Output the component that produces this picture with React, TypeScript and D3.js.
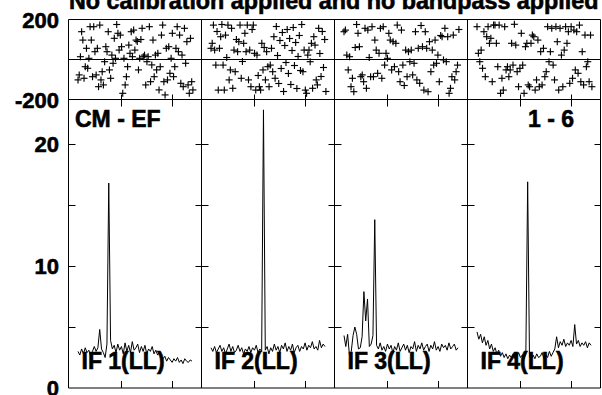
import React from "react";
import * as d3 from "d3";

const TITLE = "No calibration applied and no bandpass applied";
const BASELINE_LABEL = "CM - EF";
const ANTENNA_LABEL = "1 - 6";
const IF_NAMES = ["IF 1(LL)", "IF 2(LL)", "IF 3(LL)", "IF 4(LL)"];

const AMP_IF1 = [3.0, 2.7, 3.2, 2.8, 3.3, 2.9, 3.1, 2.6, 3.0, 3.4, 3.0, 3.3, 4.8, 3.2, 2.9, 2.5, 3.6, 16.8, 3.9, 3.2,
  3.5, 2.9, 3.6, 3.1, 3.4, 2.8, 3.7, 3.0, 3.5, 2.9, 3.8, 3.1, 3.3, 3.6, 2.9, 3.4, 3.0, 3.5, 2.8, 3.2,
  3.0, 3.4, 2.8, 3.1, 2.7, 2.9, 2.6, 2.4, 2.6, 2.2, 2.5, 2.3, 2.1, 2.4, 2.2, 2.5, 2.1, 2.3, 2.0, 2.4, 2.2, 2.1, 2.3, 2.2];
const AMP_IF2 = [3.3, 3.0, 3.4, 2.9, 3.2, 3.5, 3.0, 3.3, 2.8, 3.2, 3.6, 3.0, 3.4, 2.9, 3.1, 3.5, 3.0, 3.3, 2.8, 3.2,
  3.0, 3.4, 2.9, 3.3, 3.1, 3.5, 2.9, 3.2, 3.0, 22.8, 3.1, 3.4, 2.8, 3.3, 3.0, 3.6, 3.1, 3.4, 2.9, 3.5,
  3.2, 3.7, 3.0, 3.4, 3.1, 3.6, 2.9, 3.3, 3.5, 3.0, 3.4, 3.2, 3.7, 3.1, 3.5, 3.3, 3.8, 3.2, 3.4, 3.1, 3.9, 3.3, 3.6, 3.4];
const AMP_IF3 = [4.3, 3.4, 4.4, 2.7, 3.0, 4.3, 5.0, 4.4, 3.2, 3.3, 4.2, 7.9, 5.5, 7.3, 3.4, 3.6, 4.3, 13.8, 3.5, 3.2,
  3.7, 3.1, 3.4, 3.0, 3.6, 3.2, 3.5, 2.9, 3.4, 3.1, 3.7, 3.0, 3.3, 3.6, 3.1, 3.5, 2.9, 3.4, 3.2, 3.8,
  3.0, 3.5, 3.2, 3.7, 3.1, 3.4, 3.6, 3.0, 3.5, 3.2, 3.8, 3.1, 3.4, 3.0, 3.6, 3.3, 3.5, 3.1, 3.7, 3.2, 3.4, 3.6, 3.1, 3.3];
const AMP_IF4 = [4.6, 4.0, 4.4, 3.7, 4.2, 3.5, 3.9, 3.2, 3.6, 3.0, 3.3, 2.8, 3.1, 2.6, 2.9, 2.5, 2.8, 2.4, 2.7, 2.5,
  2.8, 2.4, 2.6, 2.9, 2.5, 2.7, 2.4, 2.8, 16.9, 2.6, 2.3, 2.7, 2.4, 2.8, 2.5, 2.6, 2.9, 2.4, 2.7, 2.5,
  3.0, 2.6, 2.9, 3.2, 4.2, 3.3, 3.8, 3.5, 4.0, 3.4, 3.7, 3.5, 3.9, 3.4, 5.2, 3.6, 3.9, 3.4, 3.7, 3.5, 3.8, 3.3, 3.7, 3.5];

const PHASE_IF1 = [-102, -77, 14, 139, 97, -94, -36, 56, -44, 6, 164, 97, -86, 164, 39, -77, 56, -136, 172, -102,
  -61, -127, -11, 64, 39, 139, -52, -94, 22, -19, 106, 6, 175, 131, 47, 122, 64, -169, 6, -127, -86, -36, 72, 31, 139, 14, 147,
  47, 97, 90, -52, 6, 100, 156, 14, 22, -127, -11, 14, 164, -111, -27, 97, -86, 22, -52, 31, -152, -36, 122, 172, -111, -177, 56,
  -102, 64, -69, 6, 131, -86, -36, 56, 164, 39, 122, -119, 22, -136, 156, -19, 89, -127, -169, 106, -111, -152];
const PHASE_IF2 = [56, 81, 172, 47, -28, 140, -153, 56, 114, 175, -28, -153, 122, 10, 172, -102,
  -52, 156, -144, 47, -61, 100, 39, 89, 172, -94, -10, 81, 131, 39, 172, -102,
  47, -136, 150, 172, 31, -153, 22, -80, -136, -153, 81, -52, 60, -102, 39, -36,
  -136, -28, 56, -61, 114, -94, 165, 20, -120, 95, -45, 135, -160, 70, -15, 150,
  -70, 105, -125, 45, 160, -30, 85, -145, 15, 120, -55, 175, -61, 47, -153, -169,
  22, 47, -11, 81, -144, 114, 72, -102, -127, 156, 30, -85, 140, -40, 100, -160];
const PHASE_IF3 = [139, 147, 22, -52, 14, -136, -94, -161, 60,
  175, 131, 64, -86, -77, -111, 156, -144, 147, 10,
  -86, 164, -86, 97, 47, -69, 31, 156, -94, 164, -28,
  31, 6, 131, 97, -52, 89, -36, 81, 172, -61, -111, 147, -28, -130,
  47, -86, 39, -11, 47, -77, -19, 139, -102, 56, -119, 170,
  64, -153, 139, 56, -161, 89, -61, 47, -28, 97, -19, 22, -111, 120,
  114, -2, 156, -11, 114, -169, -144, -86, 122, -102, -61, -28, 150];
const PHASE_IF4 = [164, 31, -11, 47, -44, 139, -86, 114, 164, 81,
  106, -111, 172, 172, 81, -36, 172, -169, -94, -153,
  164, -52, -36, -86, -52, 81, -28, 176, 72, -61,
  -136, -44, 131, -28, -169, 64, 81, -127, -136, 81,
  122, 114, -153, -102, 97, -136, 39, -127, 56, -86,
  -61, 164, -11, 39, 156, -28, -102, 164, 89, -153,
  156, 22, -136, 47, 164, 81, 139, -119, 164, -94,
  147, -52, 139, -69, 172, -111, 39, -127, 122, -36,
  -11, -111, 122, -136];

const AMPS = [AMP_IF1, AMP_IF2, AMP_IF3, AMP_IF4];
const PHASES = [PHASE_IF1, PHASE_IF2, PHASE_IF3, PHASE_IF4];

const AMP_TICKS = [5, 10, 15, 20];
const AMP_LABELS = [0, 10, 20];
const PHASE_LABELS = [200, -200];
const X_TICK_CHANNELS = [23.5, 52.2];

const W = 602;
const H = 395;
const FONT = "'Liberation Sans', Arial, Helvetica, sans-serif";

export default function App() {
  const panel = d3.scaleBand<string>().domain(IF_NAMES).range([68.5, 600.5]).padding(0);
  const yPh = d3.scaleLinear().domain([-200, 200]).range([99.5, 19.5]);
  const yAmp = d3.scaleLinear().domain([0, 23.65]).range([388, 99.5]);
  const left = 68.5;
  const right = 600.5;
  const top = yPh(200);
  const sep = yPh(-200);
  const bottom = yAmp(0);
  const edges = IF_NAMES.map((n) => panel(n) as number).concat([right]);
  const textStroke = { stroke: "#000", strokeWidth: 0.6 };

  return (
    <svg width={W} height={H} style={{ position: "absolute", left: 0, top: 0, background: "#fff" }}
      fontFamily={FONT} fontWeight="bold">
      <rect x={0} y={0} width={W} height={H} fill="#fff" />
      <text x={69} y={9} fontSize={23.3} {...textStroke}>{TITLE}</text>

      {PHASE_LABELS.map((v) => (
        <text key={"p" + v} x={59} y={yPh(v) + 8} fontSize={22} textAnchor="end" {...textStroke}>{v}</text>
      ))}
      {AMP_LABELS.map((v) => (
        <text key={"a" + v} x={59} y={yAmp(v) + 8} fontSize={22} textAnchor="end" {...textStroke}>{v}</text>
      ))}

      {/* frame */}
      <g stroke="#000" strokeWidth={1} fill="none">
        <line x1={left} x2={right} y1={top} y2={top} />
        <line x1={left} x2={right} y1={yPh(0)} y2={yPh(0)} />
        <line x1={left} x2={right} y1={sep} y2={sep} />
        <line x1={left} x2={right} y1={bottom} y2={bottom} />
        {edges.map((x, i) => (
          <line key={"e" + i} x1={x} x2={x} y1={top} y2={bottom} />
        ))}
        {edges.map((x, i) =>
          AMP_TICKS.map((t) => {
            const y = Math.round(yAmp(t)) + 0.5;
            const x1 = i === 0 ? x : x - 6;
            const x2 = i === edges.length - 1 ? x : x + 7;
            return <line key={"yt" + i + "_" + t} x1={x1} x2={x2} y1={y} y2={y} />;
          })
        )}
      </g>

      {IF_NAMES.map((name, k) => {
        const x0 = panel(name) as number;
        const xCh = d3.scaleLinear().domain([0, 63]).range([x0 + 9.5, x0 + 123.5]);
        const amp = AMPS[k];
        const ph = PHASES[k];
        const line = d3.line<number>().x((_, i) => xCh(i)).y((d) => yAmp(d));
        const n = ph.length;
        return (
          <g key={name}>
            <g stroke="#000" strokeWidth={1}>
              {X_TICK_CHANNELS.map((c) => {
                const x = Math.round(xCh(c)) + 0.5;
                return (
                  <g key={"xt" + c}>
                    <line x1={x} x2={x} y1={sep - 5} y2={sep + 7} />
                    <line x1={x} x2={x} y1={bottom} y2={bottom - 7} />
                  </g>
                );
              })}
            </g>
            <g stroke="#000" strokeWidth={1.15}>
              {ph.map((p, i) => {
                const cx = xCh((i * 63.5) / (n - 1));
                const cy = yPh(p);
                return (
                  <g key={"pt" + i}>
                    <line x1={cx - 3.5} x2={cx + 3.5} y1={cy} y2={cy} />
                    <line x1={cx} x2={cx} y1={cy - 3.5} y2={cy + 3.5} />
                  </g>
                );
              })}
            </g>
            <text x={x0 + 13} y={369} fontSize={23} {...textStroke}>{name}</text>
            <path d={line(amp) || ""} fill="none" stroke="#000" strokeWidth={1} />
          </g>
        );
      })}

      <text x={75} y={127} fontSize={23} {...textStroke}>{BASELINE_LABEL}</text>
      <text x={574} y={127} fontSize={23} textAnchor="end" {...textStroke}>{ANTENNA_LABEL}</text>
    </svg>
  );
}
